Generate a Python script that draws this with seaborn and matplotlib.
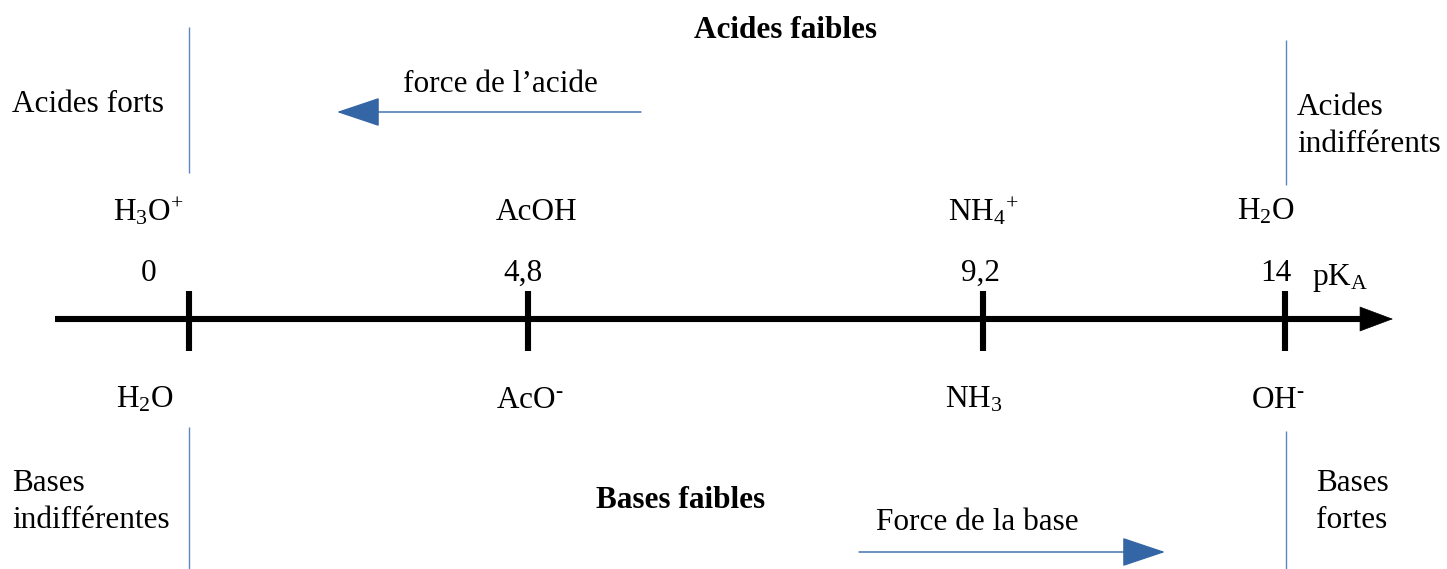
import matplotlib
matplotlib.use("Agg")
import matplotlib.pyplot as plt
import seaborn as sns
import pandas as pd

# data
pka_labels = ["0", "4,8", "9,2", "14"]
acids = [r"H$_\mathrm{3}$O$^\mathrm{+}$", "AcOH", r"NH$_\mathrm{4}$$^\mathrm{+}$", r"H$_\mathrm{2}$O"]
bases = [r"H$_\mathrm{2}$O", "AcO$^\\mathrm{\u2010}$", r"NH$_\mathrm{3}$", "OH$^\\mathrm{\u2010}$"]

# layout (pixel units of the 1447x569 canvas)
tick_x = [189, 528, 983, 1285]
acid_x = [148, 537, 983, 1266]
base_x = [145, 530, 974, 1278]
num_x = [149, 523, 980, 1276]
axis_y = 319

sns.set_theme(style="white")
plt.rcParams["font.family"] = ["Liberation Serif", "DejaVu Serif"]
plt.rcParams["text.color"] = "black"
plt.rcParams["mathtext.fontset"] = "custom"
plt.rcParams["mathtext.rm"] = "Liberation Serif"
plt.rcParams["mathtext.it"] = "Liberation Serif:italic"
plt.rcParams["mathtext.bf"] = "Liberation Serif:bold"

fig = plt.figure(figsize=(14.47, 5.69), dpi=100)
ax = fig.add_axes([0, 0, 1, 1])
ax.set_xlim(0, 1447)
ax.set_ylim(569, 0)
ax.axis("off")

fs = 22.5
blue = "#3465a4"
line_blue = "#5b87c5"

# main pKa axis
axis_df = pd.DataFrame({"x": [55, 1362], "y": [axis_y, axis_y]})
sns.lineplot(data=axis_df, x="x", y="y", color="black", linewidth=4.4, ax=ax,
             solid_capstyle="butt")
ax.annotate("", xy=(1393, axis_y), xytext=(1358, axis_y),
            arrowprops=dict(arrowstyle="-|>,head_length=23,head_width=8.6",
                            mutation_scale=1, color="black", lw=0.5,
                            shrinkA=0, shrinkB=0))
ax.vlines(tick_x, 291, 351, color="black", linewidth=4.4)

for x, lab in zip(num_x, pka_labels):
    ax.text(x, 273, lab, ha="center", va="center", fontsize=fs)
ax.text(1312, 278, r"pK$_\mathrm{A}$", ha="left", va="center", fontsize=fs)

for x, lab in zip(acid_x, acids):
    ax.text(x, 212, lab, ha="center", va="center", fontsize=fs)
for x, lab in zip(base_x, bases):
    ax.text(x, 400, lab, ha="center", va="center", fontsize=fs)

# region separators
ax.vlines([189], 27, 173, color=line_blue, linewidth=1)
ax.vlines([1286], 40, 185, color=line_blue, linewidth=1)
ax.vlines([189], 427, 569, color=line_blue, linewidth=1)
ax.vlines([1286], 431, 569, color=line_blue, linewidth=1)

# region labels
ax.text(786, 30, "Acides faibles", ha="center", va="center", fontsize=fs, fontweight="bold")
ax.text(681, 500, "Bases faibles", ha="center", va="center", fontsize=fs, fontweight="bold")
ax.text(12, 104, "Acides forts", ha="left", va="center", fontsize=fs)
ax.text(1297, 126, "Acides\nindifférents", ha="left", va="center", fontsize=fs, linespacing=1.36)
ax.text(12, 502, "Bases\nindifférentes", ha="left", va="center", fontsize=fs, linespacing=1.36)
ax.text(1316, 502, "Bases\nfortes", ha="left", va="center", fontsize=fs, linespacing=1.36)

# strength arrows
ax.text(500, 84, "force de l\u2019acide", ha="center", va="center", fontsize=fs)
ax.annotate("", xy=(337, 112), xytext=(641, 112),
            arrowprops=dict(arrowstyle="-|>,head_length=28,head_width=9.4",
                            mutation_scale=1, color=blue, lw=1,
                            shrinkA=0, shrinkB=0))
ax.text(977, 523, "Force de la base", ha="center", va="center", fontsize=fs)
ax.annotate("", xy=(1165, 552), xytext=(859, 552),
            arrowprops=dict(arrowstyle="-|>,head_length=28,head_width=9.4",
                            mutation_scale=1, color=blue, lw=1,
                            shrinkA=0, shrinkB=0))

fig.savefig("out.png", dpi=100)
